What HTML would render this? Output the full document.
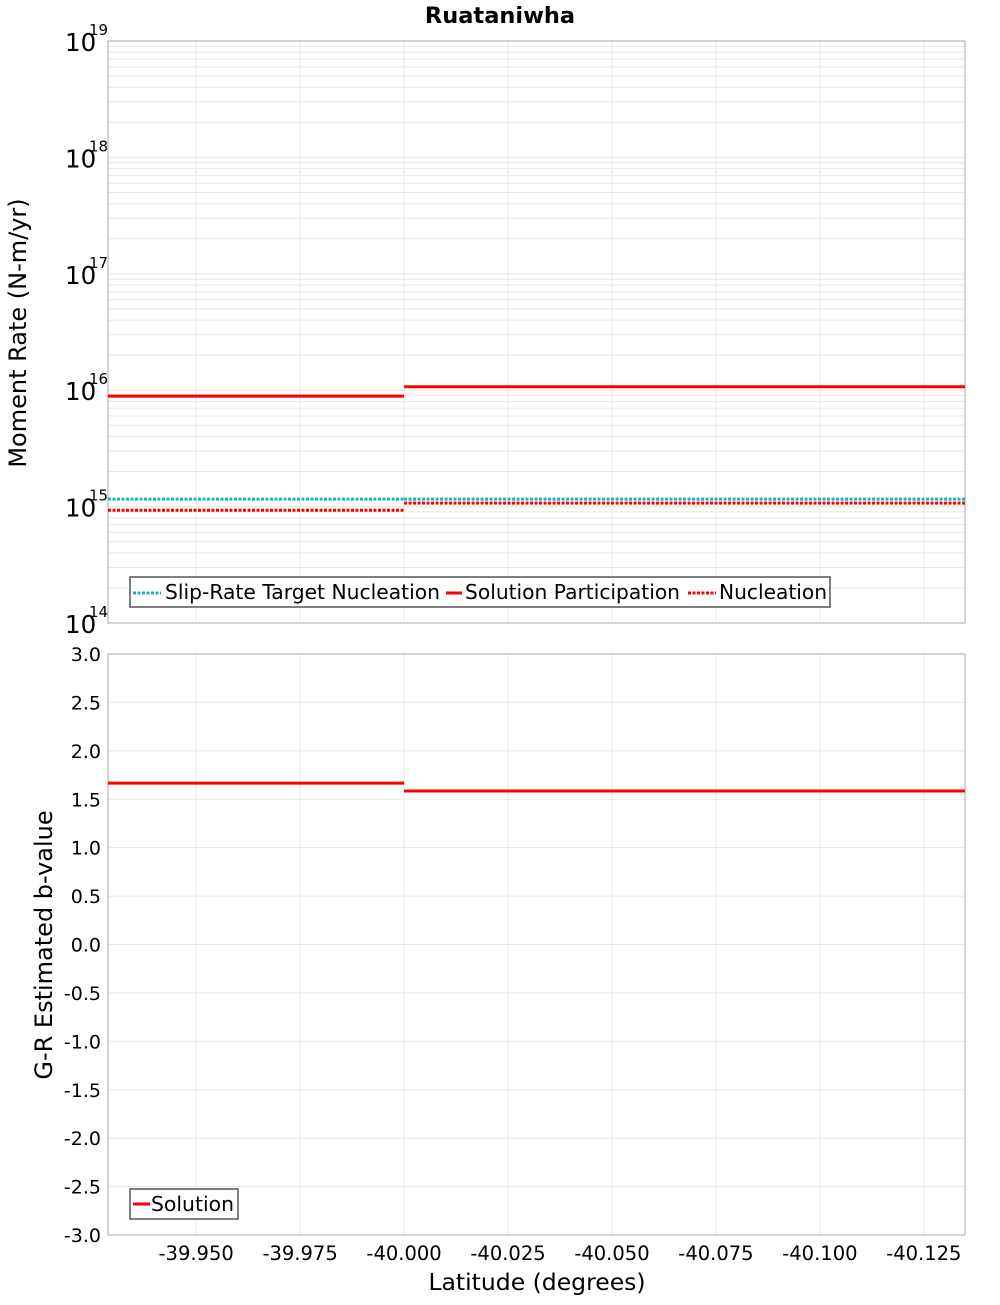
<!DOCTYPE html>
<html><head><meta charset="utf-8"><style>
body{margin:0;background:#fff;font-family:"Liberation Sans","DejaVu Sans",sans-serif}
svg text{font-family:"DejaVu Sans","Liberation Sans",sans-serif}
</style></head><body>
<svg id="c" width="1000" height="1300" xmlns="http://www.w3.org/2000/svg"></svg>
<script>
const xTicks=[-39.95,-39.975,-40.0,-40.025,-40.05,-40.075,-40.1,-40.125];
const xTickLabels=["-39.950","-39.975","-40.000","-40.025","-40.050","-40.075","-40.100","-40.125"];
const segStarts=[-39.9288,-40.0];
const segEnds=[-40.0,-40.1349];
const targetNucleation=[1.16e15,1.16e15];
const solutionParticipation=[8.9e15,1.07e16];
const nucleation=[9.3e14,1.07e15];
const bValues=[1.667,1.585];
const yDecades=[14,15,16,17,18,19];
const bTicks=[3,2.5,2,1.5,1,0.5,0,-0.5,-1,-1.5,-2,-2.5,-3];

const NS="http://www.w3.org/2000/svg";
const svg=document.getElementById('c');
function el(t,a,p){const e=document.createElementNS(NS,t);for(const k in a)e.setAttribute(k,a[k]);(p||svg).appendChild(e);return e;}
const L=108,R=965,T1=41,B1=623,T2=654,B2=1235;
const xMin=-39.9288,xMax=-40.1349;
const X=v=>L+(v-xMin)/(xMax-xMin)*(R-L);
const Y1=v=>B1-(Math.log10(v)-14)/5*(B1-T1);
const Y2=v=>B2-(v+3)/6*(B2-T2);

let t=el('text',{x:500,y:23,'text-anchor':'middle','font-size':22.5,'font-weight':'bold'});t.textContent='Ruataniwha';



const g1=el('g',{});


for(let d=14;d<19;d++)for(let m=1;m<10;m++){const y=Y1(m*Math.pow(10,d));el('line',{x1:L,x2:R,y1:y,y2:y,stroke:'#e8e8e8','stroke-width':1},g1);}
for(const v of xTicks){el('line',{x1:X(v),x2:X(v),y1:T1,y2:B1,stroke:'#e8e8e8'},g1);el('line',{x1:X(v),x2:X(v),y1:T2,y2:B2,stroke:'#e8e8e8'},g1);}
for(const v of bTicks){el('line',{x1:L,x2:R,y1:Y2(v),y2:Y2(v),stroke:'#e8e8e8'},g1);}
el('rect',{x:L,y:T1,width:R-L,height:B1-T1,fill:'none',stroke:'#aaa'});
el('rect',{x:L,y:T2,width:R-L,height:B2-T2,fill:'none',stroke:'#aaa'});

for(const d of yDecades){const y=Y1(Math.pow(10,d));
 const tt=el('text',{x:65,y:y+10,'font-size':24.5});tt.textContent='10';
 
 
 const e=el('text',{x:89,y:y-6,'font-size':15});e.textContent=String(d);}
t=el('text',{x:26,y:333,'text-anchor':'middle','font-size':24,transform:'rotate(-90 26 333)'});t.textContent='Moment Rate (N-m/yr)';



for(const v of bTicks){const tt=el('text',{x:101,y:Y2(v)+7,'text-anchor':'end','font-size':19});tt.textContent=v.toFixed(1);
 
 }
t=el('text',{x:52,y:945,'text-anchor':'middle','font-size':24,transform:'rotate(-90 52 945)'});t.textContent='G-R Estimated b-value';



xTicks.forEach((v,i)=>{const tt=el('text',{x:X(v),y:1260,'text-anchor':'middle','font-size':19.5});tt.textContent=xTickLabels[i];
 
 });
t=el('text',{x:537,y:1290,'text-anchor':'middle','font-size':23.5});t.textContent='Latitude (degrees)';



function seg(arr,Y,color,dash,w,name){for(let i=0;i<arr.length;i++){const l=el('line',{x1:X(segStarts[i]),x2:X(segEnds[i]),y1:Y(arr[i]),y2:Y(arr[i]),stroke:color,'stroke-width':w,'stroke-dasharray':dash||'none'});
 
 }}
seg(targetNucleation,Y1,'#18b4c0','3 1.5',3,'slip-rate-target-line');
seg(nucleation,Y1,'#ff0000','3 1.5',3,'nucleation-line');
seg(solutionParticipation,Y1,'#ff0000',null,3,'solution-participation-line');
seg(bValues,Y2,'#ff0000',null,3,'b-value-line');

const lg=el('g',{});


el('rect',{x:130,y:577,width:700,height:30,fill:'#fff',stroke:'#555','stroke-width':1.5},lg);
const items=[[133,161,165,'#18b4c0','3 1.5','Slip-Rate Target Nucleation',275],[446,462,465,'#ff0000',null,'Solution Participation',215],[688,716,719,'#ff0000','3 1.5','Nucleation',108]];
for(const [x1,x2,tx,c,d,txt,w] of items){el('line',{x1:x1,x2:x2,y1:593,y2:593,stroke:c,'stroke-width':3,'stroke-dasharray':d||'none'},lg);
 const tt=el('text',{x:tx,y:599,'font-size':20,textLength:w,lengthAdjust:'spacingAndGlyphs'},lg);tt.textContent=txt;
 
 }
const lg2=el('g',{});


el('rect',{x:130,y:1189,width:108,height:30,fill:'#fff',stroke:'#555','stroke-width':1.5},lg2);
el('line',{x1:133,x2:150,y1:1204,y2:1204,stroke:'#ff0000','stroke-width':3},lg2);
t=el('text',{x:151,y:1211,'font-size':20,textLength:83,lengthAdjust:'spacingAndGlyphs'},lg2);t.textContent='Solution';


</script>
</body></html>
